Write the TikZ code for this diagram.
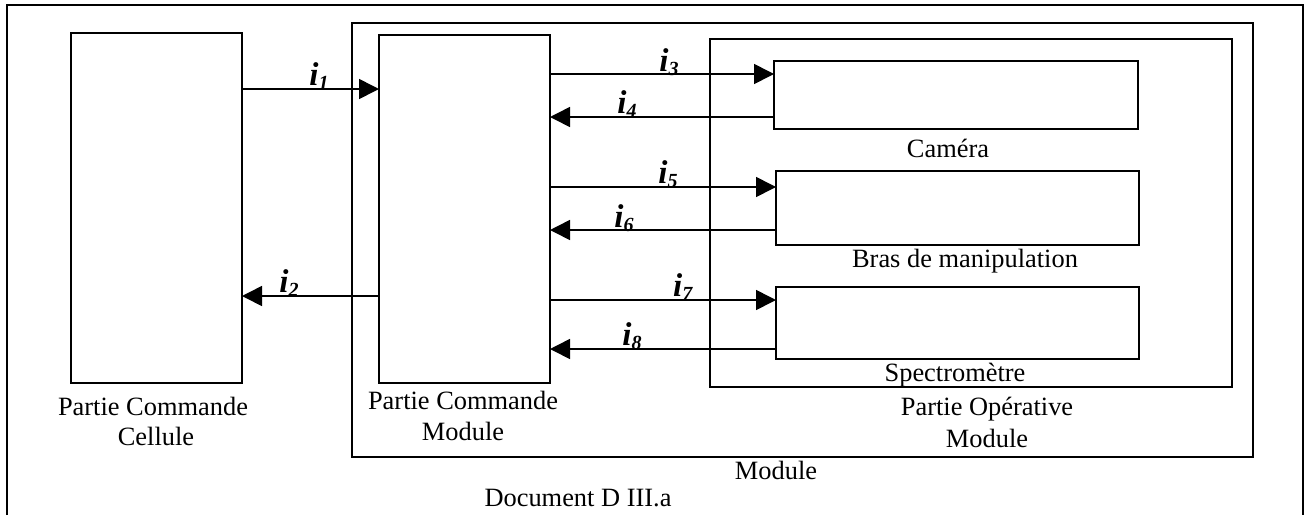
\documentclass[tikz,border=0pt]{standalone}
\usepackage{fontspec}
\setmainfont{Liberation Serif}
\usetikzlibrary{arrows.meta}
\newcommand{\cur}[1]{\textbf{\textit{i}}\raisebox{-4pt}{\fontsize{20}{20}\selectfont\textbf{\textit{#1}}}}
\tikzset{
  bx/.style={draw, line width=1.6pt, inner sep=0pt, outer sep=0pt, anchor=north west},
  arr/.style={line width=1.6pt, -{Triangle[length=20pt,width=20pt]}},
  lbl/.style={anchor=base, inner sep=0pt, font=\fontsize{33}{33}\selectfont},
  txt/.style={anchor=base, inner sep=0pt, font=\fontsize{26.4}{30}\selectfont}
}
\begin{document}
\begin{tikzpicture}[x=1pt,y=-1pt]
\useasboundingbox (0,0) rectangle (1305,515);
% outer frame, open at bottom
\draw[line width=2.4pt] (7,515) -- (7,5) -- (1303,5) -- (1303,515);
% boxes
\node[bx, line width=2pt, minimum width=901pt, minimum height=434pt] (mod) at (352,23) {};
\node[bx, minimum width=171pt, minimum height=350pt] (pcc) at (71,33) {};
\node[bx, minimum width=171pt, minimum height=348pt] (pcm) at (379,35) {};
\node[bx, line width=2pt, minimum width=522pt, minimum height=348pt] (po) at (710,39) {};
\node[bx, minimum width=364pt, minimum height=68pt] (cam) at (774,61) {};
\node[bx, minimum width=363pt, minimum height=74pt] (bras) at (776,171) {};
\node[bx, minimum width=363pt, minimum height=72pt] (spec) at (776,287) {};
% connectors
\draw[arr] (pcc.east |- 0,89) -- (pcm.west |- 0,89);
\draw[arr] (pcm.west |- 0,296) -- (pcc.east |- 0,296);
\draw[arr] (pcm.east |- 0,74) -- (cam.west |- 0,74);
\draw[arr] (cam.west |- 0,117) -- (pcm.east |- 0,117);
\draw[arr] (pcm.east |- 0,187) -- (bras.west |- 0,187);
\draw[arr] (bras.west |- 0,230) -- (pcm.east |- 0,230);
\draw[arr] (pcm.east |- 0,300) -- (spec.west |- 0,300);
\draw[arr] (spec.west |- 0,349) -- (pcm.east |- 0,349);
% current labels
\node[lbl] (l1) at (319,85) {\cur{1}};
\node[lbl] (l2) at (289,292) {\cur{2}};
\node[lbl] (l3) at (669,71) {\cur{3}};
\node[lbl] (l4) at (627,113) {\cur{4}};
\node[lbl] (l5) at (668,183) {\cur{5}};
\node[lbl] (l6) at (624,227) {\cur{6}};
\node[lbl] (l7) at (683,296) {\cur{7}};
\node[lbl] (l8) at (632,345) {\cur{8}};
% texts
\node[txt] (t1) at (153,415) {Partie Commande};
\node[txt] (t2) at (156,445) {Cellule};
\node[txt] (t3) at (463,409) {Partie Commande};
\node[txt] (t4) at (463,440) {Module};
\node[txt] (t5) at (948,157) {Caméra};
\node[txt] (t6) at (965,267) {Bras de manipulation};
\node[txt] (t7) at (955,381) {Spectromètre};
\node[txt] (t8) at (987,415) {Partie Opérative};
\node[txt] (t9) at (987,447) {Module};
\node[txt] (t10) at (776,479) {Module};
\node[txt] (t11) at (578,506) {Document D III.a};
\end{tikzpicture}
\end{document}
